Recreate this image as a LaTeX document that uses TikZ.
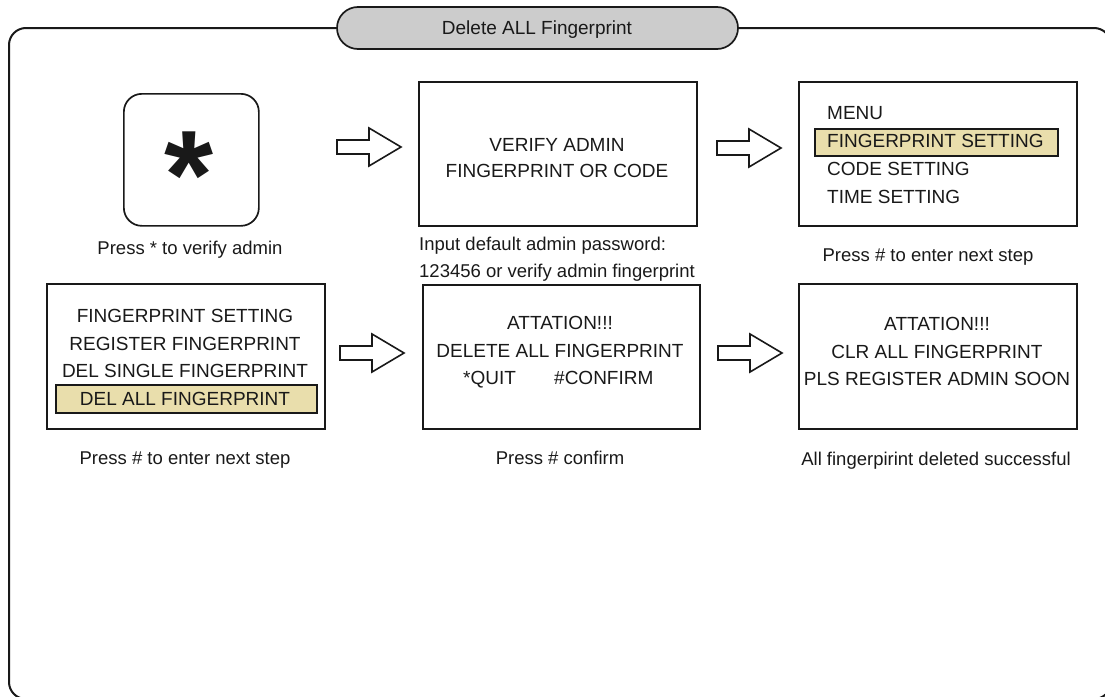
\documentclass[tikz,border=0pt]{standalone}
\usepackage{fontspec}
\setmainfont{Liberation Sans}
\definecolor{tabgray}{RGB}{204,204,204}
\definecolor{hlfill}{RGB}{233,222,172}
\definecolor{ink}{RGB}{25,25,25}
\begin{document}
\begin{tikzpicture}[x=1pt,y=-1pt,
  screen/.style={draw=ink, line width=1.7pt, rectangle, inner sep=0pt, anchor=north west},
  hlbox/.style={draw=ink, fill=hlfill, line width=1.5pt, rectangle, inner sep=0pt, anchor=north west},
  txt/.style={inner sep=0pt, anchor=base, text=ink, font=\fontsize{19}{19}\selectfont},
  ltxt/.style={txt, anchor=base west},
  lbl/.style={inner sep=0pt, anchor=base, text=ink, font=\fontsize{18.5}{18.5}\selectfont},
  hollowarrow/.pic={\draw[draw=ink, line width=1.6pt, fill=white, line join=miter]
     (0,-7) -- (32,-7) -- (32,-19) -- (64,0) -- (32,19) -- (32,7) -- (0,7) -- cycle;}
]
\useasboundingbox (0,0) rectangle (1105,696);
\begin{scope}
\clip (0,0) rectangle (1105,696);
\draw[draw=ink, line width=2pt, rounded corners=17pt] (9,28) rectangle (1111,699);
\end{scope}
% title tab
\node[draw=ink, fill=tabgray, line width=1.7pt, rounded corners=21pt, minimum width=401pt, minimum height=42pt, inner sep=0pt] (title) at (537.5,28) {};
\node[txt] (titletext) at (537,34) {Delete ALL Fingerprint};

% row 1
\node[screen, rounded corners=18pt, minimum width=135pt, minimum height=132pt] (b1) at (123,93) {};
\node[inner sep=0pt, anchor=north, text=ink, font=\fontsize{126}{126}\selectfont\bfseries] (star) at (189,132) {*};
\node[lbl] (l1) at (190,254) {Press * to verify admin};

\node[screen, minimum width=278pt, minimum height=144pt] (b2) at (418,81) {};
\node[txt] (t21) at (557,151) {VERIFY ADMIN};
\node[txt] (t22) at (557,177) {FINGERPRINT OR CODE};
\node[lbl, anchor=base west] (l21) at (419,250) {Input default admin password:};
\node[lbl, anchor=base west] (l22) at (419,277) {123456 or verify admin fingerprint};

\node[screen, minimum width=278pt, minimum height=144pt] (b3) at (798,81) {};
\node[hlbox, minimum width=243pt, minimum height=27pt] (h3) at (814,128) {};
\node[ltxt] (t31) at (827,119) {MENU};
\node[ltxt] (t32) at (827,147) {FINGERPRINT SETTING};
\node[ltxt] (t33) at (827,175) {CODE SETTING};
\node[ltxt] (t34) at (827,203) {TIME SETTING};
\node[lbl] (l3) at (928,261) {Press \# to enter next step};

% row 2
\node[screen, minimum width=278pt, minimum height=145pt] (b4) at (46,283) {};
\node[hlbox, minimum width=261pt, minimum height=28pt] (h4) at (55,384) {};
\node[txt] (t41) at (185,322) {FINGERPRINT SETTING};
\node[txt] (t42) at (185,350) {REGISTER FINGERPRINT};
\node[txt] (t43) at (185,377) {DEL SINGLE FINGERPRINT};
\node[txt] (t44) at (185,405) {DEL ALL FINGERPRINT};
\node[lbl] (l4) at (185,464) {Press \# to enter next step};

\node[screen, minimum width=277pt, minimum height=144pt] (b5) at (422,284) {};
\node[txt] (t51) at (560,329) {ATTATION!!!};
\node[txt] (t52) at (560,357) {DELETE ALL FINGERPRINT};
\node[txt, anchor=base west] (t53) at (463,384) {*QUIT};
\node[txt, anchor=base west] (t54) at (554,384) {\#CONFIRM};
\node[lbl] (l5) at (560,464) {Press \# confirm};

\node[screen, minimum width=278pt, minimum height=145pt] (b6) at (798,283) {};
\node[txt] (t61) at (937,330) {ATTATION!!!};
\node[txt] (t62) at (937,358) {CLR ALL FINGERPRINT};
\node[txt] (t63) at (937,385) {PLS REGISTER ADMIN SOON};
\node[lbl] (l6) at (936,465) {All fingerpirint deleted successful};

% block arrows
\pic at (337,147) {hollowarrow};
\pic at (717,148) {hollowarrow};
\pic at (340,353) {hollowarrow};
\pic at (718,353) {hollowarrow};
\end{tikzpicture}
\end{document}
